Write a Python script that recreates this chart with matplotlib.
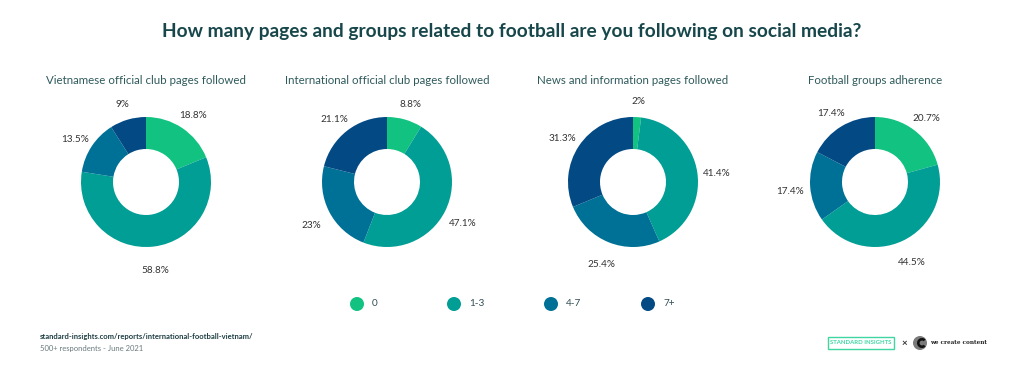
import numpy as np
import matplotlib
matplotlib.use("Agg")
import matplotlib.pyplot as plt
from matplotlib.patches import Circle, Rectangle, Wedge

plt.rcParams['font.family'] = ['Lato', 'DejaVu Sans']

title = "How many pages and groups related to football are you following on social media?"
chart_titles = ["Vietnamese official club pages followed",
                "International official club pages followed",
                "News and information pages followed",
                "Football groups adherence"]
categories = ["0", "1-3", "4-7", "7+"]
colors = ["#12c281", "#009e94", "#007196", "#034a85"]

vn_club = [18.8, 58.8, 13.5, 9]
intl_club = [8.8, 47.1, 23, 21.1]
news_pages = [2, 41.4, 25.4, 31.3]
groups = [20.7, 44.5, 17.4, 17.4]
series = [vn_club, intl_club, news_pages, groups]

W, H = 1024, 369
fig = plt.figure(figsize=(W / 100, H / 100), dpi=100)
ax = fig.add_axes([0, 0, 1, 1])
ax.set_xlim(0, W)
ax.set_ylim(0, H)
ax.axis('off')

def py(y):
    return H - y

fig.text(0.5, 1 - 32 / H, title, ha='center', va='center', fontsize=13.8,
         fontweight='bold', color='#17474a')

centers_x = [146, 387, 633, 875]
cy = 182
R = 65
hole_w = 32

for cx, vals, ttl in zip(centers_x, series, chart_titles):
    wedges, _ = ax.pie(vals, colors=colors, startangle=90, counterclock=False,
                       radius=R, center=(cx, py(cy)),
                       wedgeprops=dict(width=hole_w, linewidth=0))
    ax.text(cx, py(80), ttl, ha='center', va='center', fontsize=8.3, color='#2f5a5c')
    total = sum(vals)
    cum = 0
    for v in vals:
        mid = (cum + v / 2) / total * 2 * np.pi
        cum += v
        d = 85
        lx = cx + d * np.sin(mid)
        ly = cy - d * np.cos(mid) + 4
        txt = f"{v:g}%"
        ax.text(lx, py(ly), txt, ha='center', va='center', fontsize=7.2, color='#333333')

ax.set_xlim(0, W)
ax.set_ylim(0, H)
ax.set_aspect('auto')

# legend
leg_x0, leg_step, leg_y = 357, 97, 304
for i, (cat, col) in enumerate(zip(categories, colors)):
    x = leg_x0 + i * leg_step
    ax.add_patch(Circle((x, py(leg_y)), 7, color=col, lw=0))
    ax.text(x + 15, py(leg_y), cat, ha='left', va='center', fontsize=7.2, color='#2f4f55')

# footer
ax.text(40, py(336), "standard-insights.com/reports/international-football-vietnam/",
        ha='left', va='center', fontsize=5.5, color='#1f3f44', fontweight='bold')
ax.text(40, py(349), "500+ respondents - June 2021", ha='left', va='center',
        fontsize=5.5, color='#6a7a7e')

# logos
ax.add_patch(Rectangle((828, py(349)), 66, 12, fill=False, edgecolor='#3fd6a0', lw=1.0))
ax.text(861, py(343), "STANDARD INSIGHTS", ha='center', va='center', fontsize=4.3,
        fontweight='bold', color='#3fd6a0')
ax.text(904, py(343), "×", ha='center', va='center', fontsize=7, color='#333333', fontweight='bold')
ax.add_patch(Circle((920, py(343)), 7, color='#7a7a7a', lw=0))
ax.add_patch(Wedge((922, py(343)), 5, 45, 315, width=2.6, color='#111111', lw=0))
ax.text(930, py(343), "we create content", ha='left', va='center', fontsize=4.1,
        family='DejaVu Serif', fontweight='bold', color='#222222')

fig.savefig("out.png", dpi=100, facecolor='white')
